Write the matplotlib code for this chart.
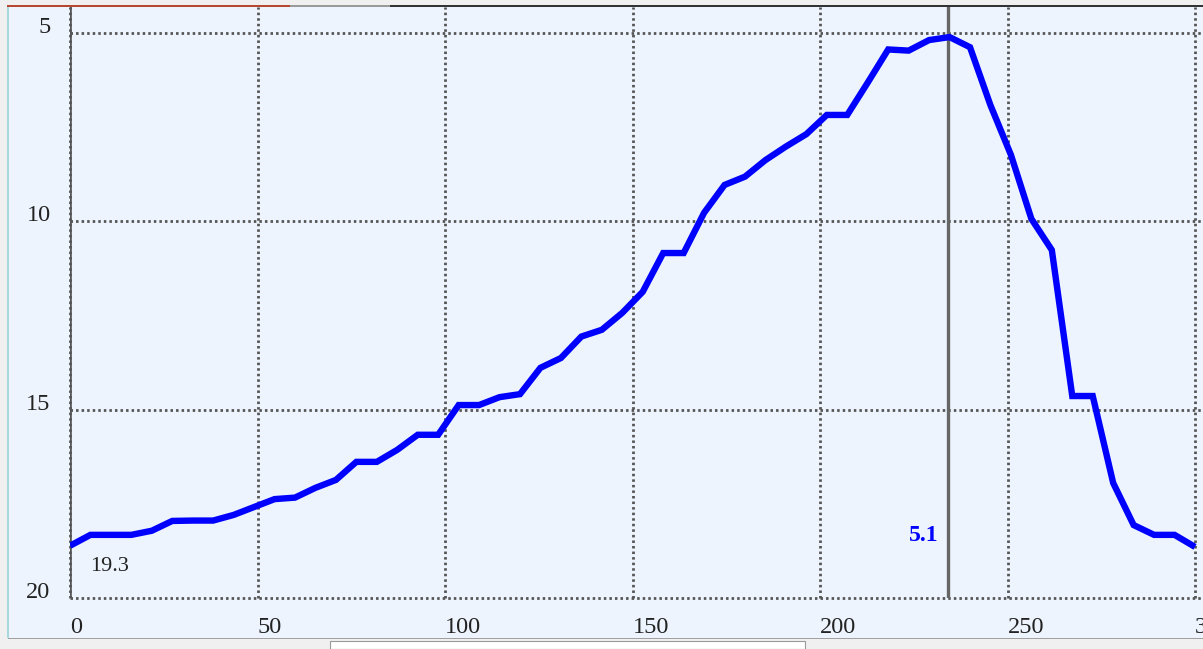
"""Recreate the inverted-axis line chart (peak marked at 5.1)."""

import matplotlib
matplotlib.use("Agg")  # non-interactive backend
import matplotlib.pyplot as plt
from matplotlib.patches import Rectangle

# data
x_values = [
    0, 5.45, 10.91, 16.36, 21.82, 27.27, 32.73, 38.18, 43.64, 49.09,
    54.55, 60, 65.45, 70.91, 76.36, 81.82, 87.27, 92.73, 98.18, 103.64,
    109.09, 114.55, 120, 125.45, 130.91, 136.36, 141.82, 147.27, 152.73, 158.18,
    163.64, 169.09, 174.55, 180, 185.45, 190.91, 196.36, 201.82, 207.27, 212.73,
    218.18, 223.64, 229.09, 234.55, 240, 245.45, 250.91, 256.36, 261.82, 267.27,
    272.73, 278.18, 283.64, 289.09, 294.55, 300,
]
y_values = [
    18.62, 18.33, 18.33, 18.33, 18.22, 17.96, 17.95, 17.95, 17.80, 17.59,
    17.38, 17.34, 17.08, 16.87, 16.39, 16.39, 16.07, 15.67, 15.67, 14.88,
    14.88, 14.67, 14.59, 13.89, 13.63, 13.06, 12.88, 12.43, 11.87, 10.84,
    10.84, 9.77, 9.03, 8.81, 8.37, 8.01, 7.68, 7.17, 7.17, 6.31,
    5.43, 5.46, 5.18, 5.10, 5.37, 6.91, 8.23, 9.93, 10.76, 14.64,
    14.64, 16.95, 18.07, 18.33, 18.33, 18.65,
]
x_ticks = [0, 50, 100, 150, 200, 250, 300]
y_ticks = [5, 10, 15, 20]
start_label = "19.3"
peak_label = "5.1"
peak_x = 234.0

W, H = 1203, 649
bg = "#edf4fd"
serif = ["Liberation Serif", "DejaVu Serif"]

fig = plt.figure(figsize=(W / 100, H / 100), dpi=100, facecolor="#f0f0f0")


def add_box(x0, y0, w, h, color, z=-1, **kw):
    """Rectangle in pixel units measured from the top-left corner."""
    fig.patches.append(Rectangle((x0 / W, 1 - (y0 + h) / H), w / W, h / H,
                                 transform=fig.transFigure, facecolor=color,
                                 edgecolor=kw.pop("edgecolor", "none"),
                                 zorder=z, **kw))


# panel behind the chart plus the window decorations around it
add_box(8, 7, W - 8, 631, bg, z=-2)
add_box(7, 7, 2, 631, "#a8d8dc")
add_box(8, 637.5, W - 8, 1.5, "#a0a0a0")
add_box(7, 4.5, 283, 2.5, "#b5482f")
add_box(290, 5.5, 100, 1.5, "#9a9a9a")
add_box(390, 4.5, W - 390, 3, "#333333")
add_box(330, 641, 475, 8, "white", edgecolor="#9a9a9a", linewidth=0.8)

# axes placed so that x=0 sits at px 70 and y=5..20 spans px 33..598
y_top = 5 - (33.3 - 7) / 37.63
ax = fig.add_axes([70 / W, 1 - 597.7 / H, (W - 70) / W, (597.7 - 7) / H])
ax.set_facecolor(bg)
ax.set_xlim(0, 300 * (W - 70) / 1125)
ax.set_ylim(20, y_top)

for side in ax.spines.values():
    side.set_visible(False)

ax.set_xticks(x_ticks)
ax.set_yticks(y_ticks)
ax.tick_params(length=0, labelsize=17.5, labelcolor="#222222")
ax.tick_params(axis="x", pad=14)
ax.tick_params(axis="y", pad=14)
for lab in ax.get_xticklabels() + ax.get_yticklabels():
    lab.set_fontfamily(serif)
plt.setp(ax.get_xticklabels(), ha="left")
plt.setp(ax.get_yticklabels(), va="baseline")

ax.grid(True, color="#555555", linewidth=2.0, linestyle=(0, (0.9, 1.1)))
ax.set_axisbelow(True)
# keep the gridline on the bottom edge (y=20) at full thickness
for gl in ax.get_ygridlines() + ax.get_xgridlines():
    gl.set_clip_on(False)

# solid guides: left edge and peak marker
ax.axvline(0, color="#555555", linewidth=2.6, zorder=2)
ax.axvline(peak_x, color="#666666", linewidth=2.4, zorder=2)

ax.plot(x_values, y_values, color="#0000ff", linewidth=4.6,
        solid_joinstyle="miter", solid_capstyle="butt", zorder=3)

ax.text(5.3, 19.3, start_label, fontsize=16, color="#222222",
        family=serif, ha="left", va="baseline")
ax.text(231.5, 18.5, peak_label, fontsize=17, color="#0000ff",
        fontweight="bold", family=serif, ha="right", va="baseline")

fig.savefig("out.png", dpi=100, facecolor=fig.get_facecolor())
plt.close(fig)
